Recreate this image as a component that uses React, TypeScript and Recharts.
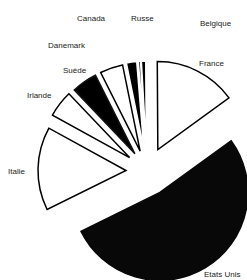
import { PieChart, Pie, Cell } from "recharts";

// slices in counter-clockwise order, starting at France
const countries = ["France", "Belgique", "Russe", "Canada", "Danemark", "Suède", "Irlande", "Italie", "Etats Unis"];
const shares = [15.1, 0.8, 0.4, 1.9, 4.2, 4.7, 4.9, 15.3, 52.7];

const data = countries.map((name, i) => ({ name, value: shares[i] }));

// styling
const fills = ["#fff", "#000", "#000", "#000", "#fff", "#000", "#fff", "#fff", "#080808"];
const strokes = ["#000", "#fff", "#fff", "#fff", "#000", "#111", "#000", "#000", "#080808"];
const explode = [24, 22, 22, 22, 21, 21, 22, 21, 25];
const labelPos: [number, number][] = [
    [199, 63], [200, 23], [131, 18], [77, 18], [48, 45], [63, 70], [27, 95], [8, 171], [204, 274],
];

const W = 247;
const H = 280;
const CX = 147;
const CY = 171;
const R = 88;
const START = 36;

const total = shares.reduce((a, b) => a + b, 0);

// offset each slice along its own bisector
function slicePos(i: number): [number, number] {
    const before = shares.slice(0, i).reduce((a, b) => a + b, 0);
    const mid = START + ((before + shares[i] / 2) / total) * 360;
    const rad = (mid * Math.PI) / 180;
    return [CX + explode[i] * Math.cos(rad), CY - explode[i] * Math.sin(rad)];
}

function labelFor(i: number) {
    return (props: any) => {
        const name = props?.payload?.name ?? props?.name;
        if (name !== countries[i]) return <g />;
        return (
            <text
                x={labelPos[i][0]}
                y={labelPos[i][1]}
                fontSize={8}
                fontFamily="'Liberation Sans', Arial, sans-serif"
                style={{ fill: "#222" }}
                textAnchor="start"
                dominantBaseline="central"
            >
                {countries[i]}
            </text>
        );
    };
}

export default function App() {
    return (
        <div style={{ position: "absolute", left: 0, top: 0, width: W, height: H, background: "#fff" }}>
            <PieChart width={W} height={H} margin={{ top: 0, right: 0, bottom: 0, left: 0 }}>
                {countries.map((c, i) => {
                    const [cx, cy] = slicePos(i);
                    return (
                        <Pie
                            key={c}
                            data={data}
                            dataKey="value"
                            nameKey="name"
                            cx={cx}
                            cy={cy}
                            innerRadius={0}
                            outerRadius={R}
                            startAngle={START}
                            endAngle={START + 360}
                            isAnimationActive={false}
                            label={labelFor(i)}
                            labelLine={false}
                        >
                            {data.map((d, j) => (
                                <Cell
                                    key={d.name}
                                    fill={j === i ? fills[j] : "none"}
                                    stroke={j === i ? strokes[j] : "none"}
                                    strokeWidth={1.5}
                                />
                            ))}
                        </Pie>
                    );
                })}
            </PieChart>
        </div>
    );
}
